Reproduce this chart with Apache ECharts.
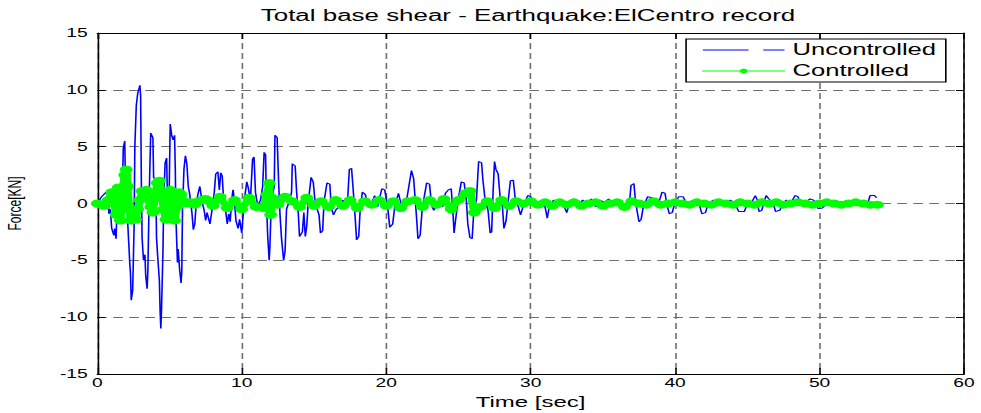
<!DOCTYPE html>
<html>
<head>
<meta charset="utf-8">
<title>Total base shear</title>
<script src="https://cdn.jsdelivr.net/npm/echarts@6/dist/echarts.min.js"></script>
<style>
  html, body { margin: 0; padding: 0; background: #fff; overflow: hidden; }
  /* the source figure was exported stretched sideways, so draw it narrow and stretch it */
  #chart { width: 613px; height: 413px; transform: scaleX(1.6); transform-origin: 0 0; }
</style>
</head>
<body>
<div id="chart"></div>
<script>
// axis ticks
const timeTicks = { min: 0, max: 60, step: 10 }
const forceTicks = { min: -15, max: 15, step: 5 }

// uncontrolled response [time sec, force kN]
const uncontrolled = [
  [0, 0], [0.3, 0.6], [0.6, 1.0], [0.75, 0.7], [0.8, -0.9], [0.9, -0.5], [1.0, -2.2], [1.15, -2.8],
  [1.2, -2.2], [1.3, -3.1], [1.35, -1.2], [1.55, -1.0], [1.6, 0.5], [1.75, 1.8], [1.8, 4.9], [1.9, 5.5],
  [1.95, 2.0], [2.05, 0.5], [2.1, -1.5], [2.2, -4.0], [2.25, -5.3], [2.3, -6.2], [2.35, -8.5], [2.45, -7.6],
  [2.55, -2.0], [2.6, 5.0], [2.7, 8.6], [2.8, 9.7], [2.95, 10.4], [3.0, 9.5], [3.05, 2.0], [3.1, -3.0],
  [3.2, -5.0], [3.3, -4.5], [3.35, -6.3], [3.45, -7.5], [3.5, -6.0], [3.6, 1.0], [3.7, 6.2], [3.85, 5.8],
  [3.9, 2.3], [4.05, 2.0], [4.1, -3.0], [4.2, -5.0], [4.3, -6.8], [4.35, -9.5], [4.4, -11.0], [4.45, -9.2],
  [4.55, -4.0], [4.6, 0.5], [4.7, 3.6], [4.8, 4.0], [4.85, 1.0], [4.95, -1.5], [5.0, 3.0], [5.05, 7.0],
  [5.15, 6.0], [5.25, 5.6], [5.35, 6.0], [5.4, 3.0], [5.45, -1.5], [5.55, -5.2], [5.6, -4.0], [5.7, -5.8],
  [5.8, -7.0], [5.85, -6.0], [5.9, -0.5], [6.0, 3.0], [6.1, 4.2], [6.2, 3.5], [6.3, 1.5], [6.4, 0.8],
  [6.55, -0.8], [6.65, -2.3], [6.75, -1.8], [6.85, 0.0], [7.0, 1.0], [7.1, 1.5], [7.25, 0.2], [7.4, -0.6],
  [7.5, -1.5], [7.6, -0.8], [7.8, -1.8], [7.95, -0.5], [8.1, 1.0], [8.2, 2.6], [8.35, 2.8], [8.45, 1.2],
  [8.55, 2.7], [8.65, 2.4], [8.75, 0.2], [8.9, -0.8], [9.0, -1.8], [9.1, -0.9], [9.2, -1.6], [9.3, 0.3],
  [9.4, 1.2], [9.5, 0.2], [9.6, -1.5], [9.75, -2.2], [9.85, -1.4], [10.0, -2.6], [10.1, -1.0], [10.2, 0.5],
  [10.35, 1.9], [10.45, 1.4], [10.6, 0.3], [10.75, 3.9], [10.85, 4.1], [10.95, 1.0], [11.1, -0.2], [11.3, 0.3],
  [11.45, 1.5], [11.55, 4.5], [11.65, 4.3], [11.7, 0.5], [11.8, -2.9], [11.9, -5.0], [11.95, -3.8], [12.05, 0.3],
  [12.25, 1.5], [12.3, 6.0], [12.45, 5.8], [12.55, 2.0], [12.65, -1.0], [12.75, -3.0], [12.9, -5.0], [13.0, -4.2],
  [13.1, -0.5], [13.3, 0.2], [13.45, 1.0], [13.5, 3.5], [13.7, 3.3], [13.8, 1.0], [13.9, -0.5], [14.0, -2.9],
  [14.2, -2.5], [14.3, -0.8], [14.4, -2.9], [14.5, -2.0], [14.6, 0.0], [14.8, 2.3], [14.95, 1.9], [15.05, 0.5],
  [15.2, -0.4], [15.35, -1.0], [15.45, -2.6], [15.6, -2.4], [15.7, 0.2], [15.9, 1.8], [16.1, 1.7], [16.2, -0.4],
  [16.35, -1.0], [16.5, -0.6], [16.8, -0.2], [17.0, 0.3], [17.3, -0.3], [17.45, 3.0], [17.6, 3.1], [17.7, 1.5],
  [17.85, -1.2], [17.95, -3.2], [18.1, -2.9], [18.2, -0.5], [18.35, 1.0], [18.55, 0.8], [18.7, 0.1], [18.9, -0.3],
  [19.2, 0.7], [19.4, -0.3], [19.7, 1.3], [19.9, 1.2], [20.1, -0.3], [20.25, -2.1], [20.45, -1.8], [20.6, -0.2],
  [20.85, 0.9], [21.1, -0.4], [21.4, 0.2], [21.75, 2.9], [21.9, 2.2], [22.0, 0.5], [22.1, -1.2], [22.2, -3.1],
  [22.35, -2.8], [22.5, -0.4], [22.8, 1.8], [23.0, 1.7], [23.15, -0.2], [23.3, -0.6], [23.6, 0.2], [23.9, -0.3],
  [24.1, 0.9], [24.3, 1.2], [24.5, 1.3], [24.6, -0.3], [24.7, -2.6], [24.8, -1.5], [24.95, 0.1], [25.2, 1.9],
  [25.4, 1.8], [25.55, 0.3], [25.65, -1.8], [25.8, -3.0], [25.95, -3.1], [26.05, -1.0], [26.25, 0.4], [26.4, 3.7],
  [26.6, 3.6], [26.7, 2.0], [26.85, 0.3], [27.05, -0.6], [27.2, -2.6], [27.3, -2.5], [27.4, 1.0], [27.5, 3.7],
  [27.6, 3.0], [27.75, 2.6], [27.9, 0.4], [28.05, -0.3], [28.15, -2.2], [28.3, -1.5], [28.45, 0.3], [28.6, 2.0],
  [28.8, 2.05], [28.95, 0.2], [29.15, -0.3], [29.3, -1.0], [29.5, -0.2], [29.8, 0.7], [30.0, 0.6], [30.3, -0.1],
  [30.6, 0.1], [31.0, -0.3], [31.15, -1.3], [31.3, -0.2], [31.6, 0.3], [31.9, 0.0], [32.3, -0.2], [32.5, -0.8],
  [32.7, 0.1], [33.0, 0.4], [33.3, -0.2], [33.6, 0.3], [33.9, -0.1], [34.2, 0.4], [34.5, -0.3], [34.8, 0.3],
  [35.1, 0.1], [35.4, 0.4], [35.7, -0.1], [36.0, 0.3], [36.3, 0.0], [36.6, -0.3], [36.85, 0.2], [36.95, 1.6],
  [37.15, 1.75], [37.25, 0.3], [37.35, -0.5], [37.5, -1.6], [37.65, -1.4], [37.8, -0.3], [38.1, 0.6], [38.4, 0.5],
  [38.6, -0.1], [38.9, 0.2], [39.1, 1.0], [39.3, 0.9], [39.45, -0.2], [39.6, -0.9], [39.8, -0.8], [40.0, 0.1],
  [40.25, 0.6], [40.55, 0.6], [40.8, 0.0], [41.1, 0.2], [41.4, 0.3], [41.7, -0.2], [41.85, -0.9], [42.1, -0.8],
  [42.3, 0.0], [42.65, 0.3], [43.0, 0.1], [43.4, -0.1], [43.8, 0.3], [44.1, 0.1], [44.4, -0.7], [44.8, -0.7],
  [45.0, 0.0], [45.3, 0.1], [45.55, 0.7], [45.7, 0.3], [45.8, -0.7], [46.0, -0.6], [46.15, 0.1], [46.3, 0.7],
  [46.5, 0.4], [46.8, 0.0], [46.95, -0.7], [47.25, -0.6], [47.45, 0.0], [47.7, 0.3], [48.0, 0.0], [48.3, 0.7],
  [48.5, 0.6], [48.7, 0.0], [49.0, 0.1], [49.35, 0.4], [49.6, 0.3], [49.9, -0.45], [50.2, -0.4], [50.5, 0.0],
  [50.8, 0.1], [51.2, 0.2], [51.5, -0.1], [51.9, 0.1], [52.4, 0.2], [52.7, 0.1], [53.0, -0.1], [53.35, 0.1],
  [53.5, 0.7], [53.8, 0.7], [53.95, 0.5]
]

// controlled response [time sec, force kN]
const controlled = [
  [0, 0], [0.25, -0.1], [0.5, -0.2], [0.75, 0.3], [1.0, 1.0], [1.15, 0.3], [1.3, -1.0], [1.45, 1.4],
  [1.6, -1.5], [1.75, 1.2], [1.9, 2.5], [2.0, 3.0], [2.1, 1.5], [2.2, -0.5], [2.35, -1.5], [2.5, -0.8],
  [2.65, -1.4], [2.8, -0.5], [2.95, 0.3], [3.1, 1.1], [3.25, 0.6], [3.4, 1.2], [3.55, 0.5], [3.7, -0.3],
  [3.85, -0.8], [4.0, 0.5], [4.15, 1.8], [4.3, 2.0], [4.45, 1.0], [4.6, -0.5], [4.75, -1.4], [4.9, 0.8],
  [5.05, 1.2], [5.2, -0.8], [5.35, -1.5], [5.5, -0.3], [5.65, 1.0], [5.8, 0.8], [6.0, 0.2], [6.25, 0.0],
  [6.5, 0.1], [6.75, -0.1], [7.0, 0.2], [7.25, 0.3], [7.5, 0.4], [7.75, 0.2], [8.0, -0.2], [8.5, 0.6],
  [9.0, -0.4], [9.5, 0.3], [10.0, -0.5], [10.5, 0.5], [11.0, -0.3], [11.5, -0.4], [11.75, 0.8], [11.9, 1.8],
  [12.0, -1.0], [12.1, 0.5], [12.5, -0.1], [13.0, 0.6], [13.5, 0.2], [14.0, -0.3], [14.5, 0.5], [15.0, -0.2],
  [15.5, 0.2], [16.0, -0.3], [16.5, 0.3], [17.0, -0.2], [17.5, 0.3], [18.0, -0.4], [18.5, 0.2], [19.0, -0.1],
  [19.5, 0.3], [20.0, -0.2], [20.5, 0.2], [21.0, -0.4], [21.5, 0.2], [22.0, 0.3], [22.5, -0.3], [23.0, 0.3],
  [23.5, -0.1], [24.0, 0.4], [24.5, -0.5], [25.0, 0.3], [25.5, 0.9], [25.8, 1.1], [26.1, -0.8], [26.5, -0.3],
  [27.0, 0.2], [27.5, -0.4], [28.0, 0.3], [28.5, -0.2], [29.0, 0.2], [29.5, 0.0], [30.0, 0.2], [30.5, -0.1],
  [31.0, 0.1], [31.5, -0.2], [32.0, 0.1], [32.5, -0.1], [33.0, 0.1], [33.5, -0.2], [34.0, 0.0], [34.5, 0.1],
  [35.0, -0.2], [35.5, 0.0], [36.0, 0.1], [36.5, -0.3], [37.0, 0.2], [37.5, 0.0], [38.0, -0.1], [38.5, 0.2],
  [39.0, -0.1], [39.5, 0.0], [40.0, 0.1], [40.5, 0.0], [41.0, -0.1], [41.5, 0.1], [42.0, 0.0], [42.5, -0.1],
  [43.0, 0.1], [43.5, 0.0], [44.0, -0.1], [44.5, 0.1], [45.0, 0.0], [45.5, -0.1], [46.0, 0.1], [46.5, 0.0],
  [47.0, 0.1], [47.5, -0.1], [48.0, 0.0], [48.5, 0.1], [49.0, 0.0], [49.5, -0.1], [50.0, 0.0], [50.5, 0.1],
  [51.0, 0.0], [51.5, -0.1], [52.0, 0.0], [52.5, 0.1], [53.0, 0.0], [53.5, -0.1], [54.0, -0.1]
]

const font = 'Liberation Sans, Arial, Helvetica, sans-serif'
const gridDash = { color: '#6e6e6e', width: 1, type: [6, 4] }

// plain black box axis, matlab style ticks pointing inward
function boxAxis (position, ticks, tickLen) {
  return {
    type: 'value',
    position: position,
    min: ticks.min,
    max: ticks.max,
    interval: ticks.step,
    axisLine: { show: true, onZero: false, lineStyle: { color: '#000', width: 1 } },
    axisTick: { show: true, inside: true, length: tickLen, lineStyle: { color: '#000' } },
    axisLabel: { show: false },
    splitLine: { show: false }
  }
}

const chart = echarts.init(document.getElementById('chart'), null, { renderer: 'svg' })

const xBottom = boxAxis('bottom', timeTicks, 6)
xBottom.axisLabel = { show: true, color: '#000', fontSize: 12, fontFamily: font, margin: 3 }
xBottom.splitLine = { show: true, lineStyle: gridDash }
xBottom.name = 'Time [sec]'
xBottom.nameLocation = 'middle'
xBottom.nameGap = 20
xBottom.nameTextStyle = { color: '#000', fontSize: 15, fontFamily: font }

const yLeft = boxAxis('left', forceTicks, 5)
yLeft.axisLabel = { show: true, color: '#000', fontSize: 12, fontFamily: font, margin: 6 }
yLeft.splitLine = { show: true, lineStyle: gridDash }
yLeft.name = 'Force[KN]'
yLeft.nameLocation = 'middle'
yLeft.nameGap = 46
yLeft.nameTextStyle = { color: '#000', fontSize: 12, fontFamily: font, padding: [0, 0, 0, 0] }

chart.setOption({
  animation: false,
  backgroundColor: '#fff',
  title: {
    text: 'Total base shear - Earthquake:ElCentro record',
    left: 158,
    top: 2,
    textStyle: { color: '#000', fontSize: 16.2, fontWeight: 'normal', fontFamily: font }
  },
  legend: {
    orient: 'vertical',
    left: 428.8,
    top: 39,
    padding: [2, 6, 2, 10],
    itemGap: 3,
    itemWidth: 51,
    itemHeight: 6,
    backgroundColor: '#fff',
    borderColor: '#000',
    borderWidth: 1,
    borderRadius: 0,
    lineStyle: { width: 1 },
    textStyle: { color: '#000', fontSize: 16, lineHeight: 18, fontFamily: font },
    data: [
      { name: 'Uncontrolled', icon: 'path://M0,0H56V2H0ZM74,0H100V2H74Z' },
      { name: 'Controlled' }
    ]
  },
  grid: { left: 60.8, right: 10.5, top: 33, bottom: 39, outerBoundsMode: 'none' },
  xAxis: [xBottom, boxAxis('top', timeTicks, 6)],
  yAxis: [yLeft, boxAxis('right', forceTicks, 5)],
  series: [
    {
      name: 'Uncontrolled',
      type: 'line',
      data: uncontrolled,
      color: '#0000ff',
      symbol: 'none',
      lineStyle: { width: 1 }
    },
    {
      name: 'Controlled',
      type: 'line',
      data: controlled,
      color: '#00ff00',
      symbol: 'circle',
      symbolSize: 8,
      lineStyle: { width: 5, cap: 'round', join: 'round' }
    }
  ]
})
</script>
</body>
</html>
